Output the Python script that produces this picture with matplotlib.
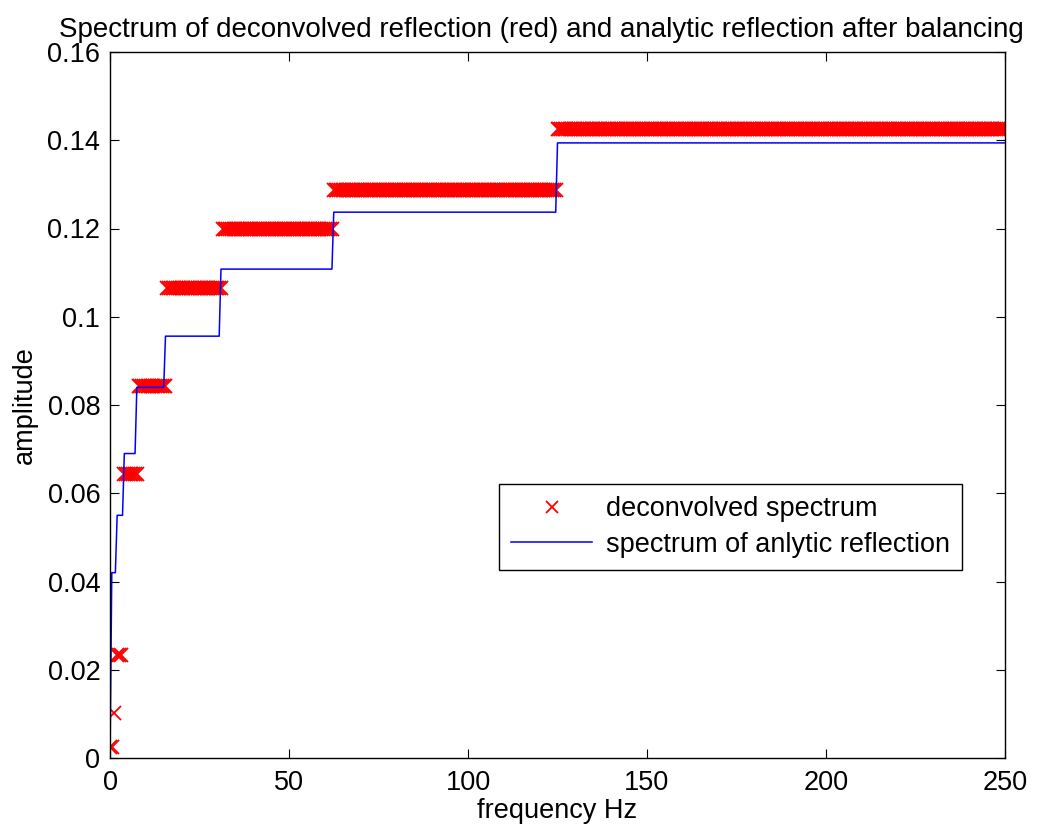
import numpy as np
import matplotlib
matplotlib.use("Agg")
import matplotlib.pyplot as plt
from matplotlib.ticker import FormatStrFormatter

# ---- data ----
# deconvolved spectrum (red x markers): piecewise-constant octave bands
red_band_start = [0, 1, 2, 4, 8, 16, 31.5, 62.5, 125]
red_level = [0.0025, 0.0102, 0.0233, 0.0644, 0.0843, 0.1065, 0.1199, 0.1287, 0.1425]
red_low_freq = [0, 0.5, 1, 2, 2.5, 3]   # sparse samples below 4 Hz
red_hi_start = 4                        # dense sampling from 4 Hz up
red_step_hi = 0.5
f_max = 250

# spectrum of analytic reflection (blue line): corner points of the step curve
blue_freq = [0, 0.5, 1.5, 2.0, 3.5, 4.0, 7.0, 7.5, 15.0, 15.5, 30.5, 31.0,
             62.0, 62.5, 124.5, 125.0, 250.0]
blue_amp = [0.0, 0.042, 0.042, 0.055, 0.055, 0.069, 0.069, 0.084, 0.084,
            0.0956, 0.0956, 0.1108, 0.1108, 0.1237, 0.1237, 0.1394, 0.1394]

xticks = [0, 50, 100, 150, 200, 250]
yticks = [0, 0.02, 0.04, 0.06, 0.08, 0.1, 0.12, 0.14, 0.16]

# expand the red bands over their sample frequencies
red_freq = np.concatenate([red_low_freq,
                           np.arange(red_hi_start, f_max + 1e-9, red_step_hi)])
idx = np.searchsorted(red_band_start, red_freq, side="right") - 1
red_amp = np.asarray(red_level)[idx]

plt.rcParams["font.family"] = ["Liberation Sans", "DejaVu Sans"]
fs = 19.5

fig = plt.figure(figsize=(10.4, 8.31), dpi=100)
ax = fig.add_axes([110 / 1040, 1 - 758 / 831, 895 / 1040, 706 / 831])

ax.plot(red_freq, red_amp, linestyle="none", marker="x", color="#FF0000",
        markersize=10, markeredgewidth=1.3, label="deconvolved spectrum")
ax.plot(blue_freq, blue_amp, color="#0000FF", linewidth=1.1,
        label="spectrum of anlytic reflection")

ax.set_xlim(0, 250)
ax.set_ylim(0, 0.16)
ax.set_xticks(xticks)
ax.set_yticks(yticks)
ax.yaxis.set_major_formatter(FormatStrFormatter("%g"))
ax.tick_params(direction="in", length=6.5, width=0.8, top=True, right=True,
               labelsize=fs, colors="black")
ax.tick_params(axis="x", pad=9)
ax.tick_params(axis="y", pad=7)
for s in ax.spines.values():
    s.set_linewidth(1.0)
    s.set_color("black")

ax.set_title("Spectrum of deconvolved reflection (red) and analytic reflection after balancing",
             fontsize=20.0, pad=11, x=(541 - 110) / 895, ha="center")
ax.set_xlabel("frequency Hz", fontsize=fs, labelpad=1)
ax.set_ylabel("amplitude", fontsize=fs, labelpad=7)

leg = ax.legend(loc="upper left", bbox_to_anchor=(0.4346, 0.388), fontsize=fs,
                frameon=True, fancybox=False, framealpha=1, edgecolor="black",
                handlelength=3.0, handletextpad=0.5, borderpad=0.45,
                labelspacing=0.35, borderaxespad=0, numpoints=1)
leg.get_frame().set_linewidth(1.0)
for h in leg.legend_handles:
    if hasattr(h, "set_markersize"):
        h.set_markersize(9)

fig.savefig("out.png", dpi=100, facecolor="white")
